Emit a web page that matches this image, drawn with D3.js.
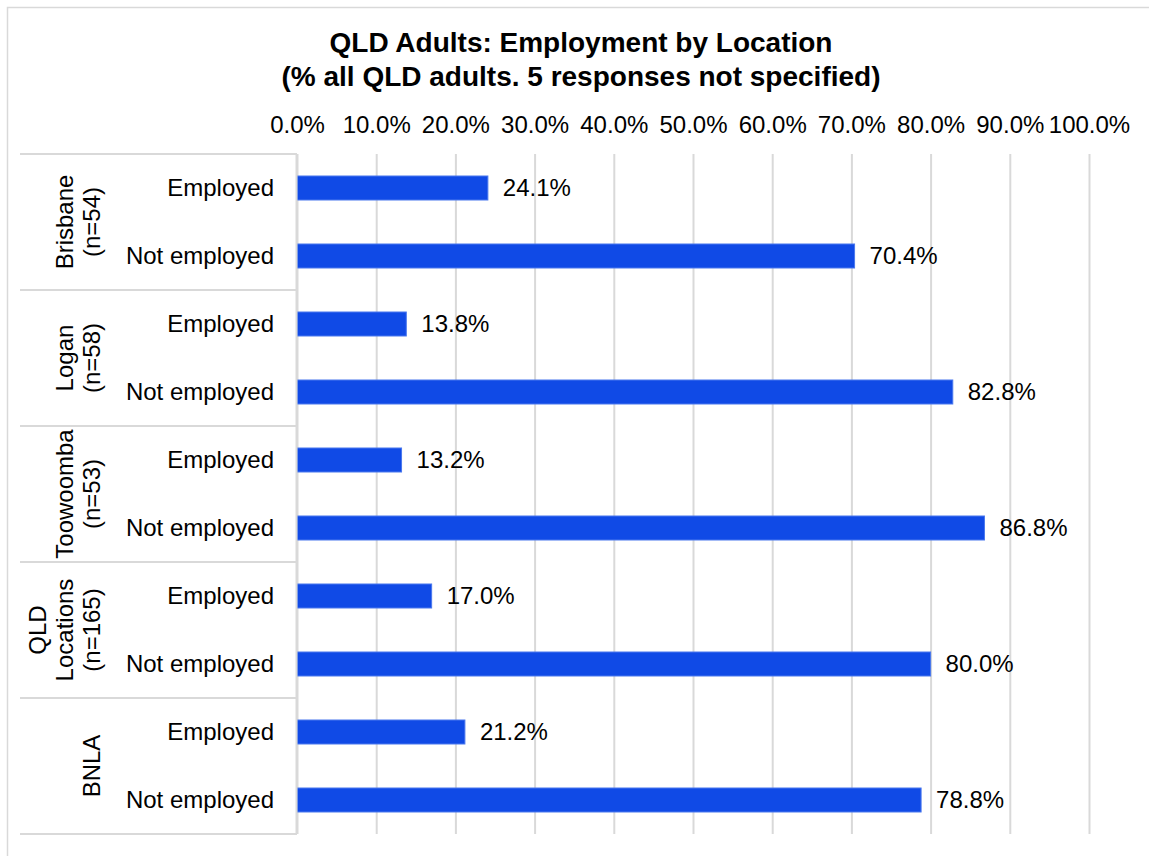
<!DOCTYPE html>
<html>
<head>
<meta charset="utf-8">
<script src="https://cdn.jsdelivr.net/npm/d3@7"></script>
<style>
  body { margin: 0; background: #fff; }
  svg { font-family: "Liberation Sans", Arial, sans-serif; }
</style>
</head>
<body>
<script>
// data
const groups = [
  ["Brisbane", "(n=54)"],
  ["Logan", "(n=58)"],
  ["Toowoomba", "(n=53)"],
  ["QLD", "Locations", "(n=165)"],
  ["BNLA"]
];
const categories = ["Employed", "Not employed"];
const employed = [24.1, 13.8, 13.2, 17.0, 21.2];
const notEmployed = [70.4, 82.8, 86.8, 80.0, 78.8];
const tickValues = [0, 10, 20, 30, 40, 50, 60, 70, 80, 90, 100];

const w = 1149;
const h = 856;
const plotLeft = 297, plotRight = 1089, plotTop = 154, plotBottom = 834;

// one row per group/category pair
const rows = [];
groups.forEach(function (g, i) {
  rows.push({ g: i, cat: categories[0], v: employed[i] });
  rows.push({ g: i, cat: categories[1], v: notEmployed[i] });
});

const svg = d3.select("body").append("svg").attr("width", w).attr("height", h);

// outer chart border
svg.append("rect")
  .attr("x", 7.5).attr("y", 7.5)
  .attr("width", w + 20).attr("height", h + 20)
  .attr("fill", "none").attr("stroke", "#d9d9d9").attr("stroke-width", 1.5);

const xScale = d3.scaleLinear().domain([0, 100]).range([plotLeft, plotRight]);

const yScale = d3.scaleBand()
  .domain(d3.range(rows.length))
  .range([plotTop, plotBottom])
  .paddingInner(0.647)
  .paddingOuter(0.3235);

const groupScale = d3.scaleBand()
  .domain(d3.range(groups.length))
  .range([plotTop, plotBottom]);

// top axis with gridlines
const xAxis = d3.axisTop(xScale)
  .tickValues(tickValues)
  .tickSize(-(plotBottom - plotTop))
  .tickPadding(21)
  .tickFormat(function (d) { return d.toFixed(1) + "%"; });

const ax = svg.append("g")
  .attr("transform", "translate(0," + plotTop + ")")
  .call(xAxis);
ax.select(".domain").remove();
ax.selectAll(".tick line").attr("stroke", "#d9d9d9").attr("stroke-width", 2);
ax.selectAll(".tick text")
  .attr("font-size", "24px")
  .attr("fill", "#000")
  .attr("font-family", "Liberation Sans, Arial, sans-serif");

// bars
svg.selectAll("rect.bar")
  .data(rows)
  .enter()
  .append("rect")
  .attr("class", "bar")
  .attr("x", xScale(0))
  .attr("y", function (d, i) { return yScale(i); })
  .attr("width", function (d) { return xScale(d.v) - xScale(0); })
  .attr("height", yScale.bandwidth())
  .attr("fill", "#104ae6")
  .attr("stroke", "#4a78ee")
  .attr("stroke-width", 1);

// value labels
svg.selectAll("text.val")
  .data(rows)
  .enter()
  .append("text")
  .attr("class", "val")
  .attr("x", function (d) { return xScale(d.v) + 15; })
  .attr("y", function (d, i) { return yScale(i) + yScale.bandwidth() / 2; })
  .attr("dy", "0.35em")
  .attr("font-size", "24px")
  .text(function (d) { return d.v.toFixed(1) + "%"; });

// category labels
svg.selectAll("text.cat")
  .data(rows)
  .enter()
  .append("text")
  .attr("class", "cat")
  .attr("x", 274)
  .attr("y", function (d, i) { return yScale(i) + yScale.bandwidth() / 2; })
  .attr("dy", "0.35em")
  .attr("text-anchor", "end")
  .attr("font-size", "24px")
  .text(function (d) { return d.cat; });

// axis line and group separators
svg.append("line")
  .attr("x1", plotLeft - 0.5).attr("x2", plotLeft - 0.5)
  .attr("y1", plotTop).attr("y2", plotBottom)
  .attr("stroke", "#d9d9d9").attr("stroke-width", 2);

svg.selectAll("line.sep")
  .data(d3.range(groups.length + 1))
  .enter()
  .append("line")
  .attr("class", "sep")
  .attr("x1", 20).attr("x2", plotLeft)
  .attr("y1", function (i) { return i < groups.length ? groupScale(i) : plotBottom; })
  .attr("y2", function (i) { return i < groups.length ? groupScale(i) : plotBottom; })
  .attr("stroke", "#d9d9d9").attr("stroke-width", 2);

// rotated group labels, last line sits at the same x
svg.selectAll("g.grp")
  .data(groups)
  .enter()
  .append("g")
  .attr("class", "grp")
  .each(function (lines, i) {
    const cy = groupScale(i) + groupScale.bandwidth() / 2;
    const g = d3.select(this);
    lines.forEach(function (t, j) {
      const bx = 99.5 - (lines.length - 1 - j) * 27;
      g.append("text")
        .attr("transform", "translate(" + bx + "," + cy + ") rotate(-90)")
        .attr("text-anchor", "middle")
        .attr("font-size", "24px")
        .text(t);
    });
  });

// title
const title = svg.append("text")
  .attr("text-anchor", "middle")
  .attr("font-size", "28px")
  .attr("font-weight", "bold");
title.append("tspan").attr("x", 581).attr("y", 52).text("QLD Adults: Employment by Location");
title.append("tspan").attr("x", 581).attr("y", 86).text("(% all QLD adults. 5 responses not specified)");
</script>
</body>
</html>
